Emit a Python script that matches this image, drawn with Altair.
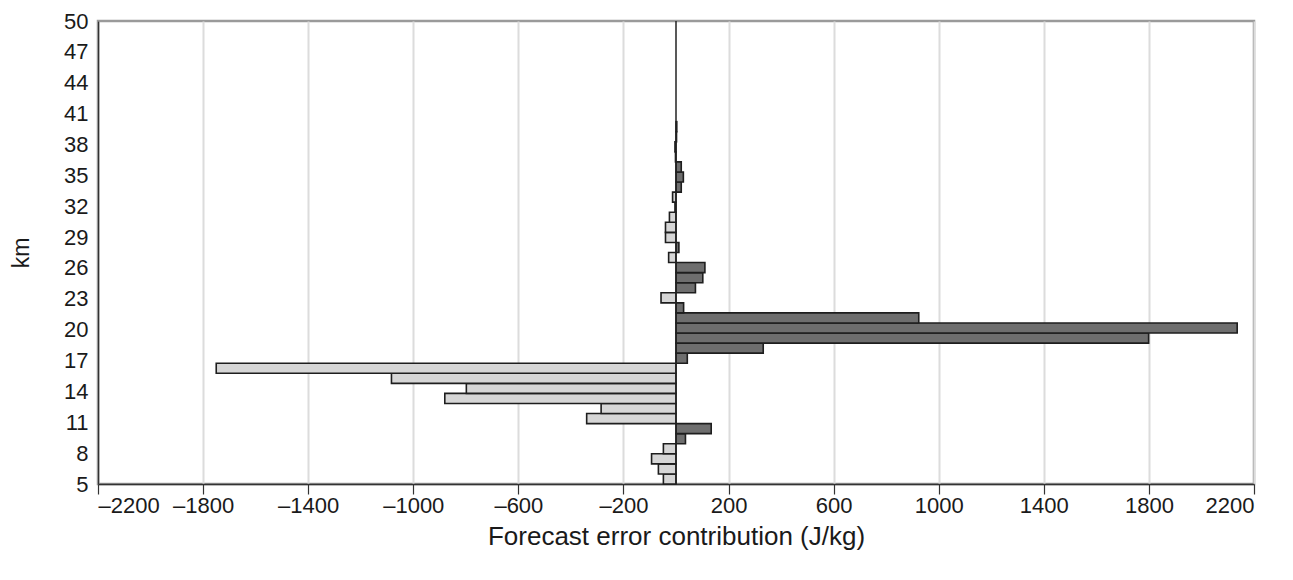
import altair as alt
import pandas as pd

km = list(range(5, 41))
contribution = [
    -48, -67, -93, -48, 36, 134, -340, -285, -880, -798, -1083, -1750,   # 5-16
    43, 332, 1799, 2136, 924, 29, -57, 74, 102, 110, -28, 11,           # 17-28
    -40, -40, -25, -4, -13, 20, 28, 20, -2, -4, 2, 3                     # 29-40
]

x_ticks = list(range(-2200, 2201, 400))
y_ticks = list(range(5, 51, 3))

df = pd.DataFrame({"km": km, "value": contribution})

FONT = "Liberation Sans"

bars = alt.Chart(df).transform_calculate(
    lo="5 + (datum.km - 5) * 45 / 46",
    hi="5 + (datum.km - 4) * 45 / 46",
).mark_bar(stroke="#1e1e1e", strokeWidth=1.6).encode(
    x=alt.X("value:Q",
            scale=alt.Scale(domain=[-2200, 2200], nice=False, zero=False),
            axis=alt.Axis(values=x_ticks, title="Forecast error contribution (J/kg)",
                          labelExpr="(datum.value < 0 ? '–' : '') + abs(datum.value)",
                          grid=True, gridColor="#dcdcdc", gridWidth=2,
                          tickSize=10, tickColor="#333", tickWidth=1.2,
                          domainColor="#333", domainWidth=1.5,
                          labelFontSize=22, titleFontSize=26, labelPadding=1,
                          titlePadding=7, labelColor="#1a1a1a", titleColor="#1a1a1a",
                          titleFontWeight="normal")),
    x2=alt.datum(0),
    y=alt.Y("lo:Q",
            scale=alt.Scale(domain=[5, 50], nice=False, zero=False),
            axis=alt.Axis(values=y_ticks, title="km", grid=False, ticks=False,
                          domainColor="#333", domainWidth=1.5,
                          labelFontSize=22, titleFontSize=23, labelPadding=10,
                          titlePadding=30, labelColor="#1a1a1a", titleColor="#1a1a1a",
                          titleFontWeight="normal")),
    y2="hi:Q",
    color=alt.condition("datum.value > 0", alt.value("#6e6e6e"), alt.value("#d6d6d6")),
)

zero_line = alt.Chart(pd.DataFrame({"z": [0]})).mark_rule(color="#222", strokeWidth=1.5).encode(
    x="z:Q"
)

chart = alt.layer(bars, zero_line).properties(
    width=1156, height=463,
    autosize=alt.AutoSizeParams(type="none"),
    padding={"left": 90, "top": 13, "right": 20, "bottom": 70},
).configure_view(
    stroke="#9a9a9a", strokeWidth=2.5
).configure_axis(
    labelFont=FONT, titleFont=FONT
)

chart.save("out.html", embed_options={"renderer": "svg", "actions": False})
